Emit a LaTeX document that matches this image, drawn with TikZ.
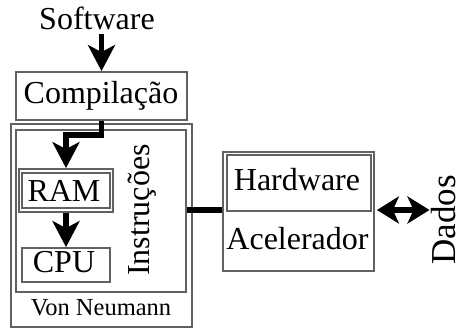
\documentclass[tikz,border=0pt]{standalone}
\usepackage{fontspec}
\setmainfont{Liberation Serif}
\usetikzlibrary{arrows.meta}
\begin{document}
\begin{tikzpicture}[x=1pt,y=-1pt,
  box/.style={draw=black!62,line width=1.8pt,inner sep=0pt,rectangle},
  lbl/.style={inner sep=0pt,font=\fontsize{32}{32}\selectfont},
  small/.style={inner sep=0pt,font=\fontsize{24.5}{24.5}\selectfont},
  conn/.style={line width=5.5pt,black},
  head/.tip={Stealth[length=26pt,width=27pt,inset=7pt]},
  tip/.style={-head}]
\useasboundingbox (0,0) rectangle (463,331);

% blocks
\node[box,minimum width=171pt,minimum height=48pt] (comp) at (101.5,96) {};
\node[box,minimum width=181pt,minimum height=203pt] (vn) at (101.5,225.5) {};
\node[box,minimum width=170pt,minimum height=162pt] (instr) at (101,211) {};
\node[box,minimum width=94pt,minimum height=43pt] (ramout) at (66,190.5) {};
\node[box,minimum width=88pt,minimum height=35pt] (ram) at (66,190.5) {};
\node[box,minimum width=88pt,minimum height=34pt] (cpu) at (66,265) {};
\node[box,minimum width=151pt,minimum height=119pt] (acc) at (298.5,211.5) {};
\node[box,minimum width=144pt,minimum height=56pt] (hw) at (299,183) {};

% labels
\node[lbl,anchor=base] (sw) at (97,30) {Software};
\node[lbl,anchor=base] (comptxt) at (101,104) {Compilação};
\node[lbl,anchor=base] (ramtxt) at (64,201) {RAM};
\node[lbl,anchor=base] (cputxt) at (64,272) {CPU};
\node[lbl,anchor=base,rotate=90] (instrtxt) at (149,210) {Instruções};
\node[small,anchor=base] (vntxt) at (101,315) {Von Neumann};
\node[lbl,anchor=base] (hwtxt) at (297,191) {Hardware};
\node[lbl,anchor=base] (acctxt) at (297.5,249) {Acelerador};
\node[lbl,anchor=base,rotate=90,font=\fontsize{35}{35}\selectfont] (dados) at (455,220) {Dados};

% connectors
\draw[conn,tip] (comp.north |- sw.south) ++(0,3) -- (comp.north);
\draw[conn,tip] (comp.south) -- ++(0,14) -| (ramout.north);
\draw[conn,tip] (ramout.south) -- (cpu.north);
\draw[conn] (instr.east |- 0,210) -- (acc.west |- 0,210);
\draw[conn,{Stealth[length=22pt,width=27pt,inset=6pt]}-{Stealth[length=22pt,width=27pt,inset=6pt]}]
  ([xshift=2pt]acc.east |- 0,210) -- ([xshift=-1pt]dados.north |- 0,210);
\end{tikzpicture}
\end{document}
